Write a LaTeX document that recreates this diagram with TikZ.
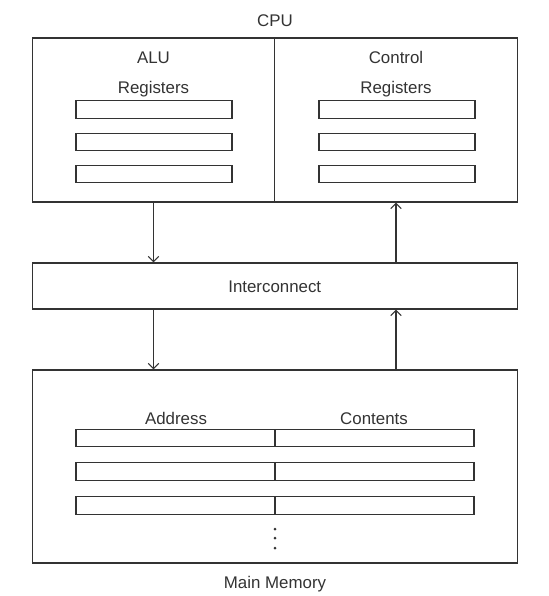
\documentclass[tikz,border=0pt]{standalone}
\usepackage{fontspec}
\setmainfont{Liberation Sans}
\definecolor{inkgray}{HTML}{333333}
\usetikzlibrary{arrows.meta, positioning}

\begin{document}
\begin{tikzpicture}[every node/.style={font=\fontsize{9.6}{11}\selectfont, text=inkgray,
                    text height=1.6ex, text depth=0.3ex}]
        \tikzset{
          unit/.style={draw=inkgray, line width=0.65pt, inner sep=0pt,
                       minimum width=4.85cm, minimum height=3.28cm},
          wide/.style={draw=inkgray, line width=0.65pt, inner sep=0pt,
                       minimum width=9.7cm},
          reg/.style={draw=inkgray, line width=0.65pt, inner sep=0pt,
                      minimum width=3.12cm, minimum height=0.31cm},
          cell/.style={draw=inkgray, line width=0.65pt, inner sep=0pt,
                       minimum width=3.98cm, minimum height=0.31cm},
          bus/.style={-{Straight Barb[length=3pt, width=6pt]},
                      draw=inkgray, line width=0.65pt}
        }
        \useasboundingbox (0,0) rectangle (10.96,-11.92);

        % CPU
        \node[unit] (alu) at (3.07,-2.40) {};
        \node[unit] (ctl) at (7.92,-2.40) {};
        \node (cpu) at (5.5,-0.40) {CPU};
        \node (alut) at (3.07,-1.14) {ALU};
        \node (alureg) at (3.07,-1.74) {Registers};
        \node (ctlt) at (7.92,-1.14) {Control};
        \node (ctlreg) at (7.92,-1.74) {Registers};
        \foreach \y [count=\i] in {-2.19,-2.84,-3.48} {
          \node[reg] (ar\i) at (3.08,\y) {};
          \node[reg] (cr\i) at (7.94,\y) {};
        }

        % bus
        \node[wide, minimum height=0.92cm] (link) at (5.495,-5.72) {Interconnect};

        % memory
        \node[wide, minimum height=3.86cm] (mem) at (5.495,-9.33) {};
        \node (memt) at (5.5,-11.64) {Main Memory};
        \node (addr) at (3.52,-8.36) {Address};
        \node (cont) at (7.48,-8.36) {Contents};
        \foreach \y [count=\i] in {-8.76,-9.43,-10.11} {
          \node[cell] (ad\i) at (3.51,\y) {};
          \node[cell] (ct\i) at (7.49,\y) {};
        }
        \foreach \y in {-10.58,-10.76,-10.96}
          \fill[inkgray] (5.5,\y) circle (0.03);

        \draw[bus] (alu.south) -- (alu.south |- link.north);
        \draw[bus] (ctl.south |- link.north) -- (ctl.south);
        \draw[bus] (alu.south |- link.south) -- (alu.south |- mem.north);
        \draw[bus] (ctl.south |- mem.north) -- (ctl.south |- link.south);
      \end{tikzpicture}
\end{document}
